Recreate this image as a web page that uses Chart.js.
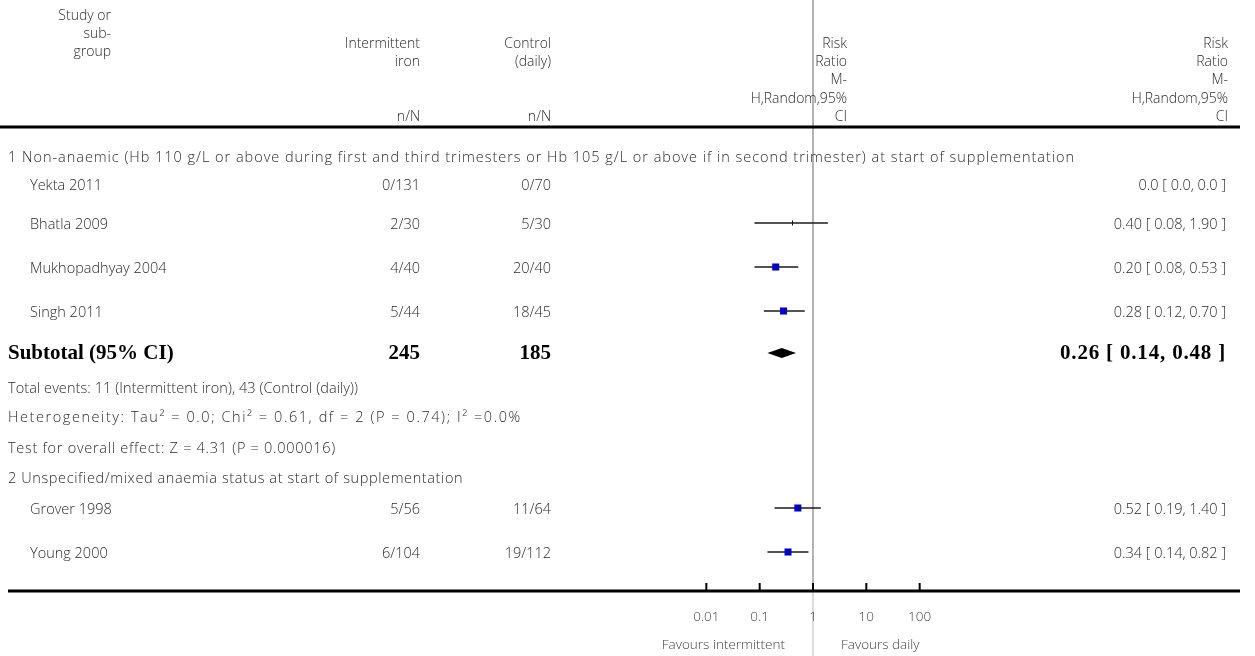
<!DOCTYPE html>
<html><head><meta charset="utf-8">
<script src="https://cdn.jsdelivr.net/npm/chart.js@4/dist/chart.umd.min.js"></script>
<style>html,body{margin:0;padding:0;background:#fff;overflow:hidden}#wrap{width:1255px;height:656px}</style>
</head><body><div id="wrap"><canvas id="c" width="1255" height="656"></canvas></div>
<script>
// ---------------- DATA ----------------
const groupTitles = [
  "1 Non-anaemic (Hb 110 g/L or above during first and third trimesters or Hb 105 g/L or above if in second trimester) at start of supplementation",
  "2 Unspecified/mixed anaemia status at start of supplementation"
];
const studies   = ["Yekta 2011", "Bhatla 2009", "Mukhopadhyay 2004", "Singh 2011", "Grover 1998", "Young 2000"];
const intEvents = [0, 2, 4, 5, 5, 6];
const intTotal  = [131, 30, 40, 44, 56, 104];
const ctlEvents = [0, 5, 20, 18, 11, 19];
const ctlTotal  = [70, 30, 40, 45, 64, 112];
const rr        = [0.0, 0.40, 0.20, 0.28, 0.52, 0.34];
const rrLow     = [0.0, 0.08, 0.08, 0.12, 0.19, 0.14];
const rrHigh    = [0.0, 1.90, 0.53, 0.70, 1.40, 0.82];
const rrText    = ["0.0 [ 0.0, 0.0 ]", "0.40 [ 0.08, 1.90 ]", "0.20 [ 0.08, 0.53 ]", "0.28 [ 0.12, 0.70 ]", "0.52 [ 0.19, 1.40 ]", "0.34 [ 0.14, 0.82 ]"];
const boxShown  = [false, false, true, true, true, true];
const subtotalLabel = "Subtotal (95% CI)";
const subtotalN = [245, 185];
const subtotalRR = [0.26, 0.14, 0.48];
const subtotalText = "0.26 [ 0.14, 0.48 ]";
const subtotalNotes = [
  "Total events: 11 (Intermittent iron), 43 (Control (daily))",
  "Heterogeneity: Tau\u00B2 = 0.0; Chi\u00B2 = 0.61, df = 2 (P = 0.74); I\u00B2 =0.0%",
  "Test for overall effect: Z = 4.31 (P = 0.000016)"
];
const axisTicks  = [0.01, 0.1, 1, 10, 100];
const tickLabels = ["0.01", "0.1", "1", "10", "100"];
const favourLeft = "Favours intermittent";
const favourRight = "Favours daily";

// ---------------- LAYOUT ----------------
const W = 1255, H = 656;
const PIVOT_X = 813, DECADE = 53.33;
const LOG_MIN = -PIVOT_X / DECADE, LOG_MAX = (W - PIVOT_X) / DECADE;
const lg = v => Math.log10(v);
// row order: group1 title, 4 studies, subtotal, 3 notes, group2 title, 2 studies
const rowY = [156, 184, 223, 267, 311, 353, 387, 416, 447, 477, 508, 552];
const studyRow = [1, 2, 3, 4, 10, 11];
const titleEnd = [1075, 463];          // right edge of the long text lines in the reference
const noteEnd = [358, 522, 336];
const HEADER_LINE_Y = 127, AXIS_Y = 591, TXT_DY = 1.5;
const COL_NAME = 30, COL_LEFT = 8, COL_INT = 420, COL_CTL = 551, COL_PLOTHDR = 847, COL_RIGHT = 1226;
const FONT = "'Open Sans', Lato, sans-serif";
const BODY = "300 14.5px " + FONT;
const BOLD = "bold 21px 'Liberation Serif', 'Times New Roman', serif";
const TXT = "#2b2b2b";

// draw left-aligned text spanning [x0, x1]
function fitText(ctx, text, x0, y, x1) {
  const target = x1 - x0;
  ctx.textAlign = 'left';
  ctx.letterSpacing = '0px';
  const w = ctx.measureText(text).width;
  if ('letterSpacing' in ctx) {
    ctx.letterSpacing = ((target - w) / text.length).toFixed(2) + 'px';
    ctx.fillText(text, x0, y);
    ctx.letterSpacing = '0px';
  } else {
    ctx.save(); ctx.translate(x0, y); ctx.scale(target / w, 1); ctx.fillText(text, 0, 0); ctx.restore();
  }
}

const plugin = {
  id: 'forest',
  beforeDatasetsDraw(chart) {
    const ctx = chart.ctx, xs = chart.scales.x, ys = chart.scales.y;
    const px = v => xs.getPixelForValue(lg(v)), py = v => ys.getPixelForValue(v);
    const x1 = px(1);
    ctx.save();
    // vertical line of no effect
    ctx.strokeStyle = '#9a9a9a'; ctx.lineWidth = 1.5;
    ctx.beginPath(); ctx.moveTo(x1, 0); ctx.lineTo(x1, py(AXIS_Y)); ctx.stroke();
    ctx.strokeStyle = '#d0d0d0';
    ctx.beginPath(); ctx.moveTo(x1, py(AXIS_Y)); ctx.lineTo(x1, H); ctx.stroke();

    // header
    ctx.fillStyle = TXT; ctx.textBaseline = 'middle';
    ctx.font = "300 14px " + FONT;
    ctx.textAlign = 'right';
    [["Study or", 15], ["sub-", 33], ["group", 51]].forEach(([t, y]) => ctx.fillText(t, 111, y + TXT_DY));
    [["Intermittent", 43], ["iron", 61], ["n/N", 116]].forEach(([t, y]) => ctx.fillText(t, COL_INT, y + TXT_DY));
    [["Control", 43], ["(daily)", 61], ["n/N", 116]].forEach(([t, y]) => ctx.fillText(t, COL_CTL, y + TXT_DY));
    [["Risk", 43], ["Ratio", 61], ["M-", 79], ["H,Random,95%", 98], ["CI", 116]].forEach(([t, y]) => {
      ctx.fillText(t, COL_PLOTHDR, y + TXT_DY); ctx.fillText(t, COL_RIGHT + 2, y + TXT_DY);
    });
    ctx.fillStyle = '#000';
    ctx.fillRect(0, HEADER_LINE_Y - 1.5, 1240, 3);

    // group titles and notes
    ctx.fillStyle = TXT; ctx.font = BODY;
    fitText(ctx, groupTitles[0], COL_LEFT, py(rowY[0]) + TXT_DY, titleEnd[0]);
    fitText(ctx, groupTitles[1], COL_LEFT, py(rowY[9]) + TXT_DY, titleEnd[1]);
    subtotalNotes.forEach((t, i) => fitText(ctx, t, COL_LEFT, py(rowY[6 + i]) + TXT_DY, noteEnd[i]));

    // studies
    studies.forEach((s, i) => {
      const yl = py(rowY[studyRow[i]]), y = yl + TXT_DY;
      ctx.fillStyle = TXT; ctx.font = BODY;
      ctx.textAlign = 'left'; ctx.fillText(s, COL_NAME, y);
      ctx.textAlign = 'right';
      ctx.fillText(intEvents[i] + "/" + intTotal[i], COL_INT, y);
      ctx.fillText(ctlEvents[i] + "/" + ctlTotal[i], COL_CTL, y);
      ctx.fillText(rrText[i], COL_RIGHT, y);
      if (rr[i] > 0) {
        ctx.strokeStyle = '#1a1a1a'; ctx.lineWidth = 1.5;
        ctx.beginPath(); ctx.moveTo(px(rrLow[i]), yl); ctx.lineTo(px(rrHigh[i]), yl); ctx.stroke();
      }
    });

    // subtotal
    const ys5 = py(rowY[5]);
    ctx.fillStyle = '#000'; ctx.font = BOLD;
    ctx.textAlign = 'left'; ctx.fillText(subtotalLabel, COL_LEFT, ys5 + 1);
    ctx.textAlign = 'right';
    ctx.fillText(String(subtotalN[0]), COL_INT, ys5 + 1);
    ctx.fillText(String(subtotalN[1]), COL_CTL, ys5 + 1);
    fitText(ctx, subtotalText, 1060, ys5 + 1, COL_RIGHT);
    const dl = px(subtotalRR[1]), dm = px(subtotalRR[0]), dr = px(subtotalRR[2]);
    ctx.beginPath(); ctx.moveTo(dl, ys5); ctx.lineTo(dm, ys5 - 5); ctx.lineTo(dr, ys5); ctx.lineTo(dm, ys5 + 5); ctx.closePath();
    ctx.fill();

    // axis
    const ay = py(AXIS_Y);
    ctx.fillRect(8, ay - 1.5, 1232, 3);
    ctx.font = "300 13.5px " + FONT; ctx.textAlign = 'center';
    axisTicks.forEach((t, i) => {
      const x = px(t);
      ctx.fillStyle = '#000'; ctx.fillRect(x - 1, ay - 8, 2, 8);
      ctx.fillStyle = '#444'; ctx.fillText(tickLabels[i], x, 617);
    });
    ctx.textAlign = 'right'; ctx.fillText(favourLeft, x1 - 28, 645);
    ctx.textAlign = 'left'; ctx.fillText(favourRight, x1 + 28, 645);
    ctx.restore();
  },
  afterDatasetsDraw(chart) {
    const ctx = chart.ctx, xs = chart.scales.x, ys = chart.scales.y;
    ctx.save(); ctx.strokeStyle = '#111'; ctx.lineWidth = 1;
    studies.forEach((s, i) => {
      if (!(rr[i] > 0)) return;
      const x = Math.round(xs.getPixelForValue(lg(rr[i]))) + 0.5, y = ys.getPixelForValue(rowY[studyRow[i]]);
      ctx.beginPath(); ctx.moveTo(x, y - 2.5); ctx.lineTo(x, y + 2.5); ctx.stroke();
    });
    ctx.restore();
  }
};

const boxData = [];
studies.forEach((s, i) => { if (boxShown[i]) boxData.push({ x: lg(rr[i]), y: rowY[studyRow[i]] }); });

new Chart(document.getElementById('c'), {
  type: 'scatter',
  data: { datasets: [{ data: boxData, pointStyle: 'rect', pointRadius: 5, pointHoverRadius: 5,
    backgroundColor: '#0000ee', borderWidth: 0, clip: false }] },
  options: {
    responsive: false, animation: false, devicePixelRatio: 1, events: [],
    layout: { padding: 0, autoPadding: false },
    plugins: { legend: { display: false }, tooltip: { enabled: false } },
    scales: {
      x: { type: 'linear', min: LOG_MIN, max: LOG_MAX, bounds: 'data', display: false },
      y: { type: 'linear', min: 0, max: H, reverse: true, display: false }
    }
  },
  plugins: [plugin]
});
</script></body></html>
